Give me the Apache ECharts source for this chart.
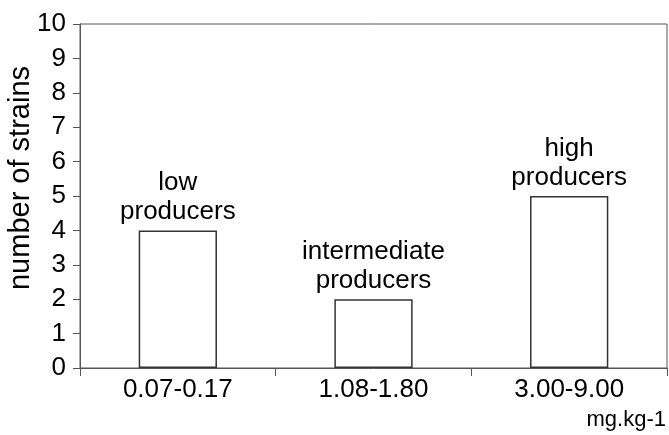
<!DOCTYPE html>
<html>
<head>
<meta charset="utf-8">
<script src="https://cdn.jsdelivr.net/npm/echarts@6/dist/echarts.min.js"></script>
<style>html,body{margin:0;padding:0;background:#fff}#c{width:669px;height:435px}</style>
</head>
<body>
<div id="c"></div>
<script>
var categories = ['0.07-0.17', '1.08-1.80', '3.00-9.00'];
var strains = [4, 2, 5];
var groupLabels = ['low\nproducers', 'intermediate\nproducers', 'high\nproducers'];
var yTicks = [0, 1, 2, 3, 4, 5, 6, 7, 8, 9, 10];
var unitLabel = 'mg.kg-1';
var yTitle = 'number of strains';

var font = '"Liberation Sans", Arial, sans-serif';
var chart = echarts.init(document.getElementById('c'), null, {renderer: 'canvas'});
chart.setOption({
  animation: false,
  backgroundColor: '#fff',
  grid: {left: 80, right: 2, top: 24, bottom: 67, containLabel: false, outerBoundsMode: 'none',
         show: true, borderColor: '#555', borderWidth: 1, backgroundColor: 'transparent'},
  xAxis: {
    type: 'category',
    data: categories,
    boundaryGap: true,
    axisLine: {lineStyle: {color: '#555', width: 1}},
    axisTick: {show: true, length: 8, inside: false, lineStyle: {color: '#555'}},
    axisLabel: {color: '#000', fontSize: 26, fontFamily: font, margin: 9}
  },
  yAxis: {
    type: 'value',
    min: yTicks[0],
    max: yTicks[yTicks.length - 1],
    interval: 1,
    name: yTitle,
    nameLocation: 'middle',
    nameGap: 45,
    nameMoveOverlap: false,
    nameTextStyle: {color: '#000', fontSize: 29, fontFamily: font, padding: [0, 0, 0, 36]},
    splitLine: {show: false},
    axisLine: {show: true, lineStyle: {color: '#555', width: 1}},
    axisTick: {show: true, length: 7, lineStyle: {color: '#555'}},
    axisLabel: {color: '#000', fontSize: 26, fontFamily: font, margin: 14}
  },
  series: [{
    type: 'bar',
    barWidth: '40%',
    data: strains,
    itemStyle: {color: '#fff', borderColor: '#333', borderWidth: 1.5},
    label: {
      show: true,
      position: 'top',
      distance: 4,
      color: '#000',
      fontSize: 26,
      lineHeight: 29,
      fontFamily: font,
      formatter: function (p) { return groupLabels[p.dataIndex]; }
    }
  }],
  graphic: [{
    type: 'text',
    right: 3,
    bottom: 4,
    style: {text: unitLabel, fontSize: 22, fontFamily: font, fill: '#000'}
  }]
});
</script>
</body>
</html>
